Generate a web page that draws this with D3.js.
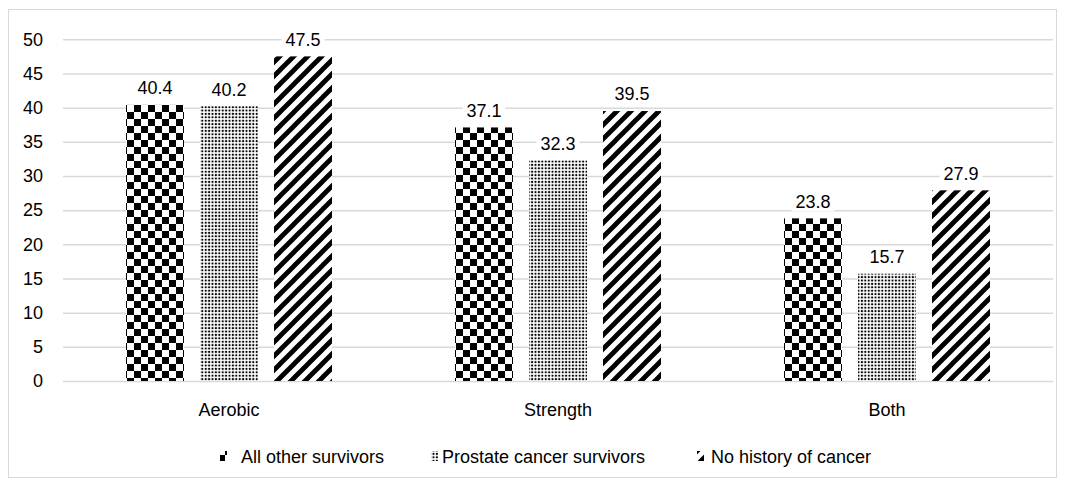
<!DOCTYPE html>
<html>
<head>
<meta charset="utf-8">
<script src="https://cdn.jsdelivr.net/npm/d3@7"></script>
<style>
  html, body { margin: 0; padding: 0; background: #fff; }
  svg { display: block; font-family: Arial, "Liberation Sans", sans-serif; }
</style>
</head>
<body>
<svg id="chart" width="1065" height="486"></svg>
<script>
// ---- data ----
const categories = ["Aerobic", "Strength", "Both"];
const seriesNames = ["All other survivors", "Prostate cancer survivors", "No history of cancer"];
const allOtherSurvivors = [40.4, 37.1, 23.8];
const prostateSurvivors = [40.2, 32.3, 15.7];
const noHistoryOfCancer = [47.5, 39.5, 27.9];
const yTickValues = [0, 5, 10, 15, 20, 25, 30, 35, 40, 45, 50];

const seriesValues = [allOtherSurvivors, prostateSurvivors, noHistoryOfCancer];
const patternIds = ["pat-checker", "pat-dots", "pat-stripes"];

const svg = d3.select("#chart");
const FONT = "Arial, 'Liberation Sans', sans-serif";

// frame
svg.append("rect").attr("x", 8.5).attr("y", 9.5).attr("width", 1048).attr("height", 468)
  .attr("fill", "#fff").attr("stroke", "#d9d9d9").attr("stroke-width", 1);

// ---- patterns ----
const defs = svg.append("defs");
const pc = defs.append("pattern").attr("id", "pat-checker").attr("patternUnits", "userSpaceOnUse")
  .attr("width", 14).attr("height", 14).attr("x", 127).attr("y", 0);
pc.append("rect").attr("width", 14).attr("height", 14).attr("fill", "#fff");
pc.append("rect").attr("x", 0).attr("y", 0).attr("width", 7).attr("height", 7).attr("fill", "#000");
pc.append("rect").attr("x", 7).attr("y", 7).attr("width", 7).attr("height", 7).attr("fill", "#000");

const pd = defs.append("pattern").attr("id", "pat-dots").attr("patternUnits", "userSpaceOnUse")
  .attr("width", 3.4).attr("height", 3.4);
pd.append("rect").attr("width", 3.4).attr("height", 3.4).attr("fill", "#fff");
pd.append("circle").attr("cx", 1.7).attr("cy", 1.7).attr("r", 1.1).attr("fill", "#000");

const ps = defs.append("pattern").attr("id", "pat-stripes").attr("patternUnits", "userSpaceOnUse")
  .attr("width", 14).attr("height", 14);
ps.append("rect").attr("width", 14).attr("height", 14).attr("fill", "#fff");
ps.append("path").attr("d", "M-3,3 L3,-3 M0,14 L14,0 M11,17 L17,11")
  .attr("stroke", "#000").attr("stroke-width", 4.8).attr("fill", "none");

// ---- scales ----
const plotLeft = 63, plotRight = 1053;
const y = d3.scaleLinear().domain([0, 50]).range([381, 39.3]);
const x0 = d3.scaleBand().domain(categories).range([64.5, 1051.5]).paddingInner(0).paddingOuter(0);
const x1 = d3.scaleBand().domain(seriesNames).range([0, 206]).paddingInner(16 / 74).paddingOuter(0);
const groupOffset = (x0.bandwidth() - 206) / 2;

// ---- y axis / gridlines ----
const yAxis = d3.axisLeft(y).tickValues(yTickValues).tickSize(-(plotRight - plotLeft)).tickPadding(20)
  .tickFormat(d3.format("d"));
const gy = svg.append("g").attr("transform", `translate(${plotLeft},0)`).call(yAxis);
gy.select(".domain").remove();
gy.selectAll(".tick line").attr("stroke", "#d9d9d9").attr("stroke-width", 1.5);
gy.selectAll(".tick text").attr("fill", "#000").style("font-size", "18px").style("font-family", FONT);

// ---- x axis labels ----
const xAxis = d3.axisBottom(x0).tickSize(0).tickPadding(22);
const gx = svg.append("g").attr("transform", `translate(0,381)`).call(xAxis);
gx.select(".domain").remove();
gx.selectAll(".tick text").attr("fill", "#000").style("font-size", "18px").style("font-family", FONT);

// ---- bars ----
const rows = [];
categories.forEach((c, ci) => {
  seriesNames.forEach((s, si) => {
    rows.push({ cat: c, ser: s, si: si, value: seriesValues[si][ci] });
  });
});

const barX = d => x0(d.cat) + groupOffset + x1(d.ser);

svg.append("g").selectAll("rect").data(rows).join("rect")
  .attr("x", barX)
  .attr("y", d => y(d.value))
  .attr("width", x1.bandwidth())
  .attr("height", d => y(0) - y(d.value))
  .attr("fill", d => `url(#${patternIds[d.si]})`);

// ---- data labels ----
const lg = svg.append("g");
rows.forEach(d => {
  const cx = barX(d) + x1.bandwidth() / 2;
  const cy = y(d.value) - 17;
  const g = lg.append("g");
  const t = g.append("text").attr("x", cx).attr("y", cy).attr("dy", "0.35em")
    .attr("text-anchor", "middle").style("font-size", "18px").style("font-family", FONT)
    .attr("fill", "#000").text(d.value.toFixed(1));
  const bb = t.node().getBBox();
  g.insert("rect", "text").attr("x", bb.x - 4).attr("y", cy - 10).attr("width", bb.width + 8)
    .attr("height", 20).attr("fill", "#fff");
});

// ---- legend ----
const legendX = [220, 431, 697];
const legendTextX = [241, 442, 711];
const legendY = 457;
const leg = svg.append("g");
seriesNames.forEach((s, i) => {
  leg.append("rect").attr("x", legendX[i]).attr("y", legendY - 6).attr("width", 7).attr("height", 10)
    .attr("fill", `url(#${patternIds[i]})`);
  leg.append("text").attr("x", legendTextX[i]).attr("y", legendY).attr("dy", "0.35em")
    .style("font-size", "18px").style("font-family", FONT).attr("fill", "#000").text(s);
});
</script>
</body>
</html>
